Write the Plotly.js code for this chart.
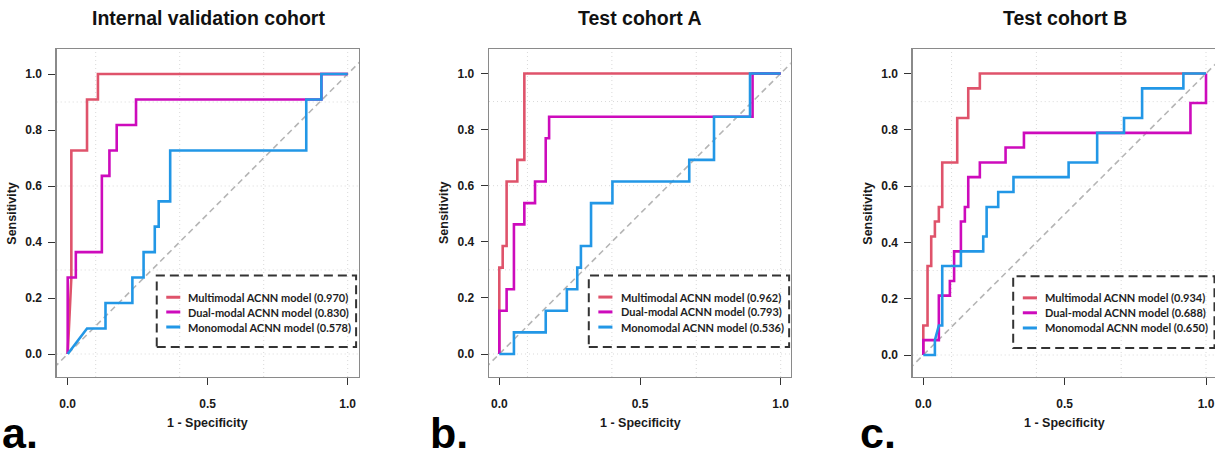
<!DOCTYPE html>
<html><head><meta charset="utf-8">
<script src="https://cdn.plot.ly/plotly-3.0.1.min.js"></script>
<style>html,body{margin:0;padding:0;background:#fff}#chart{width:1215px;height:460px}</style>
</head><body><div id="chart"></div>
<script>
// ---------- data ----------
const PANEL_TITLES = ["Internal validation cohort", "Test cohort A", "Test cohort B"];
const PANEL_LETTERS = ["a.", "b.", "c."];
const MODEL_NAMES = ["Multimodal ACNN model", "Dual-modal ACNN model", "Monomodal ACNN model"];
const X_TITLE = "1 - Specificity";
const Y_TITLE = "Sensitivity";
const X_TICKS = [0, 0.5, 1];
const Y_TICKS = [0, 0.2, 0.4, 0.6, 0.8, 1];
const GRID_X = [0.1, 0.4, 0.7, 1.0];
const GRID_Y = [0, 0.3, 0.6, 0.9];
const DIAG = [-0.2, 1.2];

const AUC_A = [0.970, 0.830, 0.578];
const AUC_B = [0.962, 0.793, 0.536];
const AUC_C = [0.934, 0.688, 0.650];

// Panel a: internal validation cohort
const A_MULTI_FPR = [0, 0.013, 0.013, 0.069, 0.069, 0.108, 0.108, 1.0];
const A_MULTI_TPR = [0, 0.273, 0.727, 0.727, 0.909, 0.909, 1.0, 1.0];
const A_DUAL_FPR = [0, 0, 0.029, 0.029, 0.122, 0.122, 0.149, 0.149, 0.175, 0.175, 0.244, 0.244, 0.906, 0.906, 1.0];
const A_DUAL_TPR = [0, 0.273, 0.273, 0.364, 0.364, 0.636, 0.636, 0.727, 0.727, 0.818, 0.818, 0.909, 0.909, 1.0, 1.0];
const A_MONO_FPR = [0, 0.069, 0.135, 0.135, 0.231, 0.231, 0.271, 0.271, 0.311, 0.311, 0.325, 0.325, 0.366, 0.366, 0.852, 0.852, 0.906, 0.906, 1.0];
const A_MONO_TPR = [0, 0.091, 0.091, 0.182, 0.182, 0.273, 0.273, 0.364, 0.364, 0.455, 0.455, 0.545, 0.545, 0.727, 0.727, 0.909, 0.909, 1.0, 1.0];

// Panel b: test cohort A
const B_MULTI_FPR = [0, 0, 0.012, 0.012, 0.026, 0.026, 0.064, 0.064, 0.089, 0.089, 1.0];
const B_MULTI_TPR = [0, 0.308, 0.308, 0.385, 0.385, 0.615, 0.615, 0.692, 0.692, 1.0, 1.0];
const B_DUAL_FPR = [0, 0, 0.026, 0.026, 0.052, 0.052, 0.089, 0.089, 0.127, 0.127, 0.165, 0.165, 0.177, 0.177, 0.900, 0.900, 1.0];
const B_DUAL_TPR = [0, 0.154, 0.154, 0.231, 0.231, 0.462, 0.462, 0.538, 0.538, 0.615, 0.615, 0.769, 0.769, 0.846, 0.846, 1.0, 1.0];
const B_MONO_FPR = [0, 0.052, 0.052, 0.165, 0.165, 0.240, 0.240, 0.277, 0.277, 0.290, 0.290, 0.326, 0.326, 0.402, 0.402, 0.675, 0.675, 0.763, 0.763, 0.891, 0.891, 1.0];
const B_MONO_TPR = [0, 0, 0.077, 0.077, 0.154, 0.154, 0.231, 0.231, 0.308, 0.308, 0.385, 0.385, 0.538, 0.538, 0.615, 0.615, 0.692, 0.692, 0.846, 0.846, 1.0, 1.0];

// Panel c: test cohort B
const C_MULTI_FPR = [0, 0, 0.015, 0.015, 0.028, 0.028, 0.041, 0.041, 0.055, 0.055, 0.067, 0.067, 0.120, 0.120, 0.159, 0.159, 0.200, 0.200, 1.0];
const C_MULTI_TPR = [0, 0.105, 0.105, 0.316, 0.316, 0.421, 0.421, 0.474, 0.474, 0.526, 0.526, 0.684, 0.684, 0.842, 0.842, 0.947, 0.947, 1.0, 1.0];
const C_DUAL_FPR = [0, 0, 0.055, 0.055, 0.094, 0.094, 0.109, 0.109, 0.133, 0.133, 0.147, 0.147, 0.159, 0.159, 0.200, 0.200, 0.291, 0.291, 0.356, 0.356, 0.945, 0.945, 1.0, 1.0];
const C_DUAL_TPR = [0, 0.053, 0.053, 0.211, 0.211, 0.263, 0.263, 0.368, 0.368, 0.474, 0.474, 0.526, 0.526, 0.632, 0.632, 0.684, 0.684, 0.737, 0.737, 0.789, 0.789, 0.895, 0.895, 1.0];
const C_MONO_FPR = [0, 0.041, 0.041, 0.055, 0.067, 0.067, 0.133, 0.133, 0.212, 0.212, 0.224, 0.224, 0.265, 0.265, 0.319, 0.319, 0.514, 0.514, 0.615, 0.615, 0.710, 0.710, 0.774, 0.774, 0.920, 0.920, 1.0];
const C_MONO_TPR = [0, 0, 0.053, 0.105, 0.105, 0.316, 0.316, 0.368, 0.368, 0.421, 0.421, 0.526, 0.526, 0.579, 0.579, 0.632, 0.632, 0.684, 0.684, 0.789, 0.789, 0.842, 0.842, 0.947, 0.947, 1.0, 1.0];

// ---------- assembly ----------
const PANELS = [
  { auc: AUC_A, curves: [[A_MULTI_FPR, A_MULTI_TPR], [A_DUAL_FPR, A_DUAL_TPR], [A_MONO_FPR, A_MONO_TPR]] },
  { auc: AUC_B, curves: [[B_MULTI_FPR, B_MULTI_TPR], [B_DUAL_FPR, B_DUAL_TPR], [B_MONO_FPR, B_MONO_TPR]] },
  { auc: AUC_C, curves: [[C_MULTI_FPR, C_MULTI_TPR], [C_DUAL_FPR, C_DUAL_TPR], [C_MONO_FPR, C_MONO_TPR]] }
];
const COLORS = ["#DF536B", "#CD0BBC", "#2297E6"];

// pixel geometry of each panel (style)
const W = 1215, H = 460;
const GEOM = [
  { left: 56.7, right: 359, x0: 67.7, x1: 347.7, top: 49, bottom: 377, y0: 354, y1: 74, mirrorY: true, titleX: 208, letterX: 0 },
  { left: 489, right: 790.7, x0: 499.3, x1: 780.7, top: 49, bottom: 377, y0: 354, y1: 73.5, mirrorY: true, titleX: 640, letterX: 428 },
  { left: 912.7, right: 1215, x0: 923.3, x1: 1206, top: 49, bottom: 377, y0: 355, y1: 73.5, mirrorY: false, titleX: 1065, letterX: 858 }
];
const fx = p => p / W;
const fy = p => 1 - p / H;

const LEG_BOX = { x0: 0.318, x1: 1.03, y0: 0.025, y1: 0.28 };
const LEG_LINE = [0.352, 0.402];
const LEG_TEXT_X = 0.424;
const LEG_ROWS = [0.203, 0.150, 0.096];

const tickFont = { family: "Liberation Sans, Arial, sans-serif", size: 12, color: "#1a1a1a", weight: "bold" };
const data = [];
const shapes = [];
const annotations = [];
const layout = {
  width: W, height: H,
  margin: { l: 0, r: 0, t: 0, b: 0 },
  paper_bgcolor: "#ffffff", plot_bgcolor: "#ffffff",
  showlegend: false,
  font: { family: "Liberation Sans, Arial, sans-serif" }
};

PANELS.forEach((p, i) => {
  const g = GEOM[i];
  const n = i === 0 ? "" : String(i + 1);
  const xa = "x" + n, ya = "y" + n;
  const xr = [(g.left - g.x0) / (g.x1 - g.x0), (g.right - g.x0) / (g.x1 - g.x0)];
  const yr = [(g.y0 - g.bottom) / (g.y0 - g.y1), (g.y0 - g.top) / (g.y0 - g.y1)];
  layout["xaxis" + n] = {
    domain: [fx(g.left), fx(g.right)], range: xr, anchor: ya,
    tickmode: "array", tickvals: X_TICKS, tickformat: ".1f",
    ticks: "outside", ticklen: 7, tickwidth: 1, tickcolor: "#333",
    showline: true, linecolor: "#8a8a8a", linewidth: 1.3, mirror: true,
    showgrid: false, zeroline: false, tickfont: tickFont, ticklabelstandoff: 8,
    fixedrange: true
  };
  layout["yaxis" + n] = {
    domain: [fy(g.bottom), fy(g.top)], range: yr, anchor: xa,
    tickmode: "array", tickvals: Y_TICKS, tickformat: ".1f",
    ticks: "outside", ticklen: 7, tickwidth: 1, tickcolor: "#333",
    showline: true, linecolor: "#8a8a8a", linewidth: 1.3, mirror: g.mirrorY,
    showgrid: false, zeroline: false, tickfont: tickFont, ticklabelstandoff: 4,
    fixedrange: true
  };
  // grid (dotted)
  GRID_X.forEach(v => shapes.push({ type: "line", layer: "below", xref: xa, yref: ya + " domain", x0: v, x1: v, y0: 0, y1: 1,
    line: { color: "#d9d9d9", width: 1, dash: "1px,3px" } }));
  GRID_Y.forEach(v => shapes.push({ type: "line", layer: "below", xref: xa + " domain", yref: ya, x0: 0, x1: 1, y0: v, y1: v,
    line: { color: "#d9d9d9", width: 1, dash: "1px,3px" } }));
  // reference diagonal
  data.push({ x: DIAG, y: DIAG, xaxis: xa, yaxis: ya, type: "scatter", mode: "lines",
    line: { color: "#b5b5b5", width: 1.6, dash: "6px,4px" }, hoverinfo: "skip", showlegend: false });
  // ROC curves
  p.curves.forEach((c, k) => {
    data.push({ x: c[0], y: c[1], xaxis: xa, yaxis: ya, type: "scatter", mode: "lines",
      name: MODEL_NAMES[k] + " (" + p.auc[k].toFixed(3) + ")",
      line: { color: COLORS[k], width: 2.6, shape: "linear" }, showlegend: false });
    // legend sample + text
    shapes.push({ type: "line", xref: xa, yref: ya, x0: LEG_LINE[0], x1: LEG_LINE[1], y0: LEG_ROWS[k], y1: LEG_ROWS[k],
      line: { color: COLORS[k], width: 3 } });
    annotations.push({ xref: xa, yref: ya, x: LEG_TEXT_X, y: LEG_ROWS[k], xanchor: "left", yanchor: "middle",
      showarrow: false, text: MODEL_NAMES[k] + " (" + p.auc[k].toFixed(3) + ")",
      font: { family: "Lato, Open Sans, sans-serif", size: 11, color: "#1e1e1e", weight: "bold" } });
  });
  // legend box
  shapes.push({ type: "rect", xref: xa, yref: ya, x0: LEG_BOX.x0, x1: LEG_BOX.x1, y0: LEG_BOX.y0, y1: LEG_BOX.y1,
    line: { color: "#333", width: 2, dash: "9px,5px" }, fillcolor: "rgba(0,0,0,0)" });
  // titles
  annotations.push({ xref: "paper", yref: "paper", x: fx(g.titleX), y: fy(18), xanchor: "center", yanchor: "middle",
    showarrow: false, text: PANEL_TITLES[i],
    font: { family: "Liberation Sans, Arial, sans-serif", size: 19.5, color: "#111", weight: "bold" } });
  annotations.push({ xref: "paper", yref: "paper", x: fx((g.x0 + g.x1) / 2), y: fy(423), xanchor: "center", yanchor: "middle",
    showarrow: false, text: X_TITLE,
    font: { family: "Liberation Sans, Arial, sans-serif", size: 12.5, color: "#1a1a1a", weight: "bold" } });
  annotations.push({ xref: "paper", yref: "paper", x: fx(g.left - 45), y: fy((g.top + g.bottom) / 2), xanchor: "center", yanchor: "middle",
    showarrow: false, text: Y_TITLE, textangle: -90,
    font: { family: "Liberation Sans, Arial, sans-serif", size: 12.5, color: "#1a1a1a", weight: "bold" } });
  annotations.push({ xref: "paper", yref: "paper", x: fx(g.letterX), y: fy(459), xanchor: "left", yanchor: "bottom",
    showarrow: false, text: PANEL_LETTERS[i],
    font: { family: "Liberation Sans, Arial, sans-serif", size: 43, color: "#000", weight: "bold" } });
});
layout.shapes = shapes;
layout.annotations = annotations;

Plotly.newPlot("chart", data, layout, { staticPlot: true, displayModeBar: false });
</script></body></html>
